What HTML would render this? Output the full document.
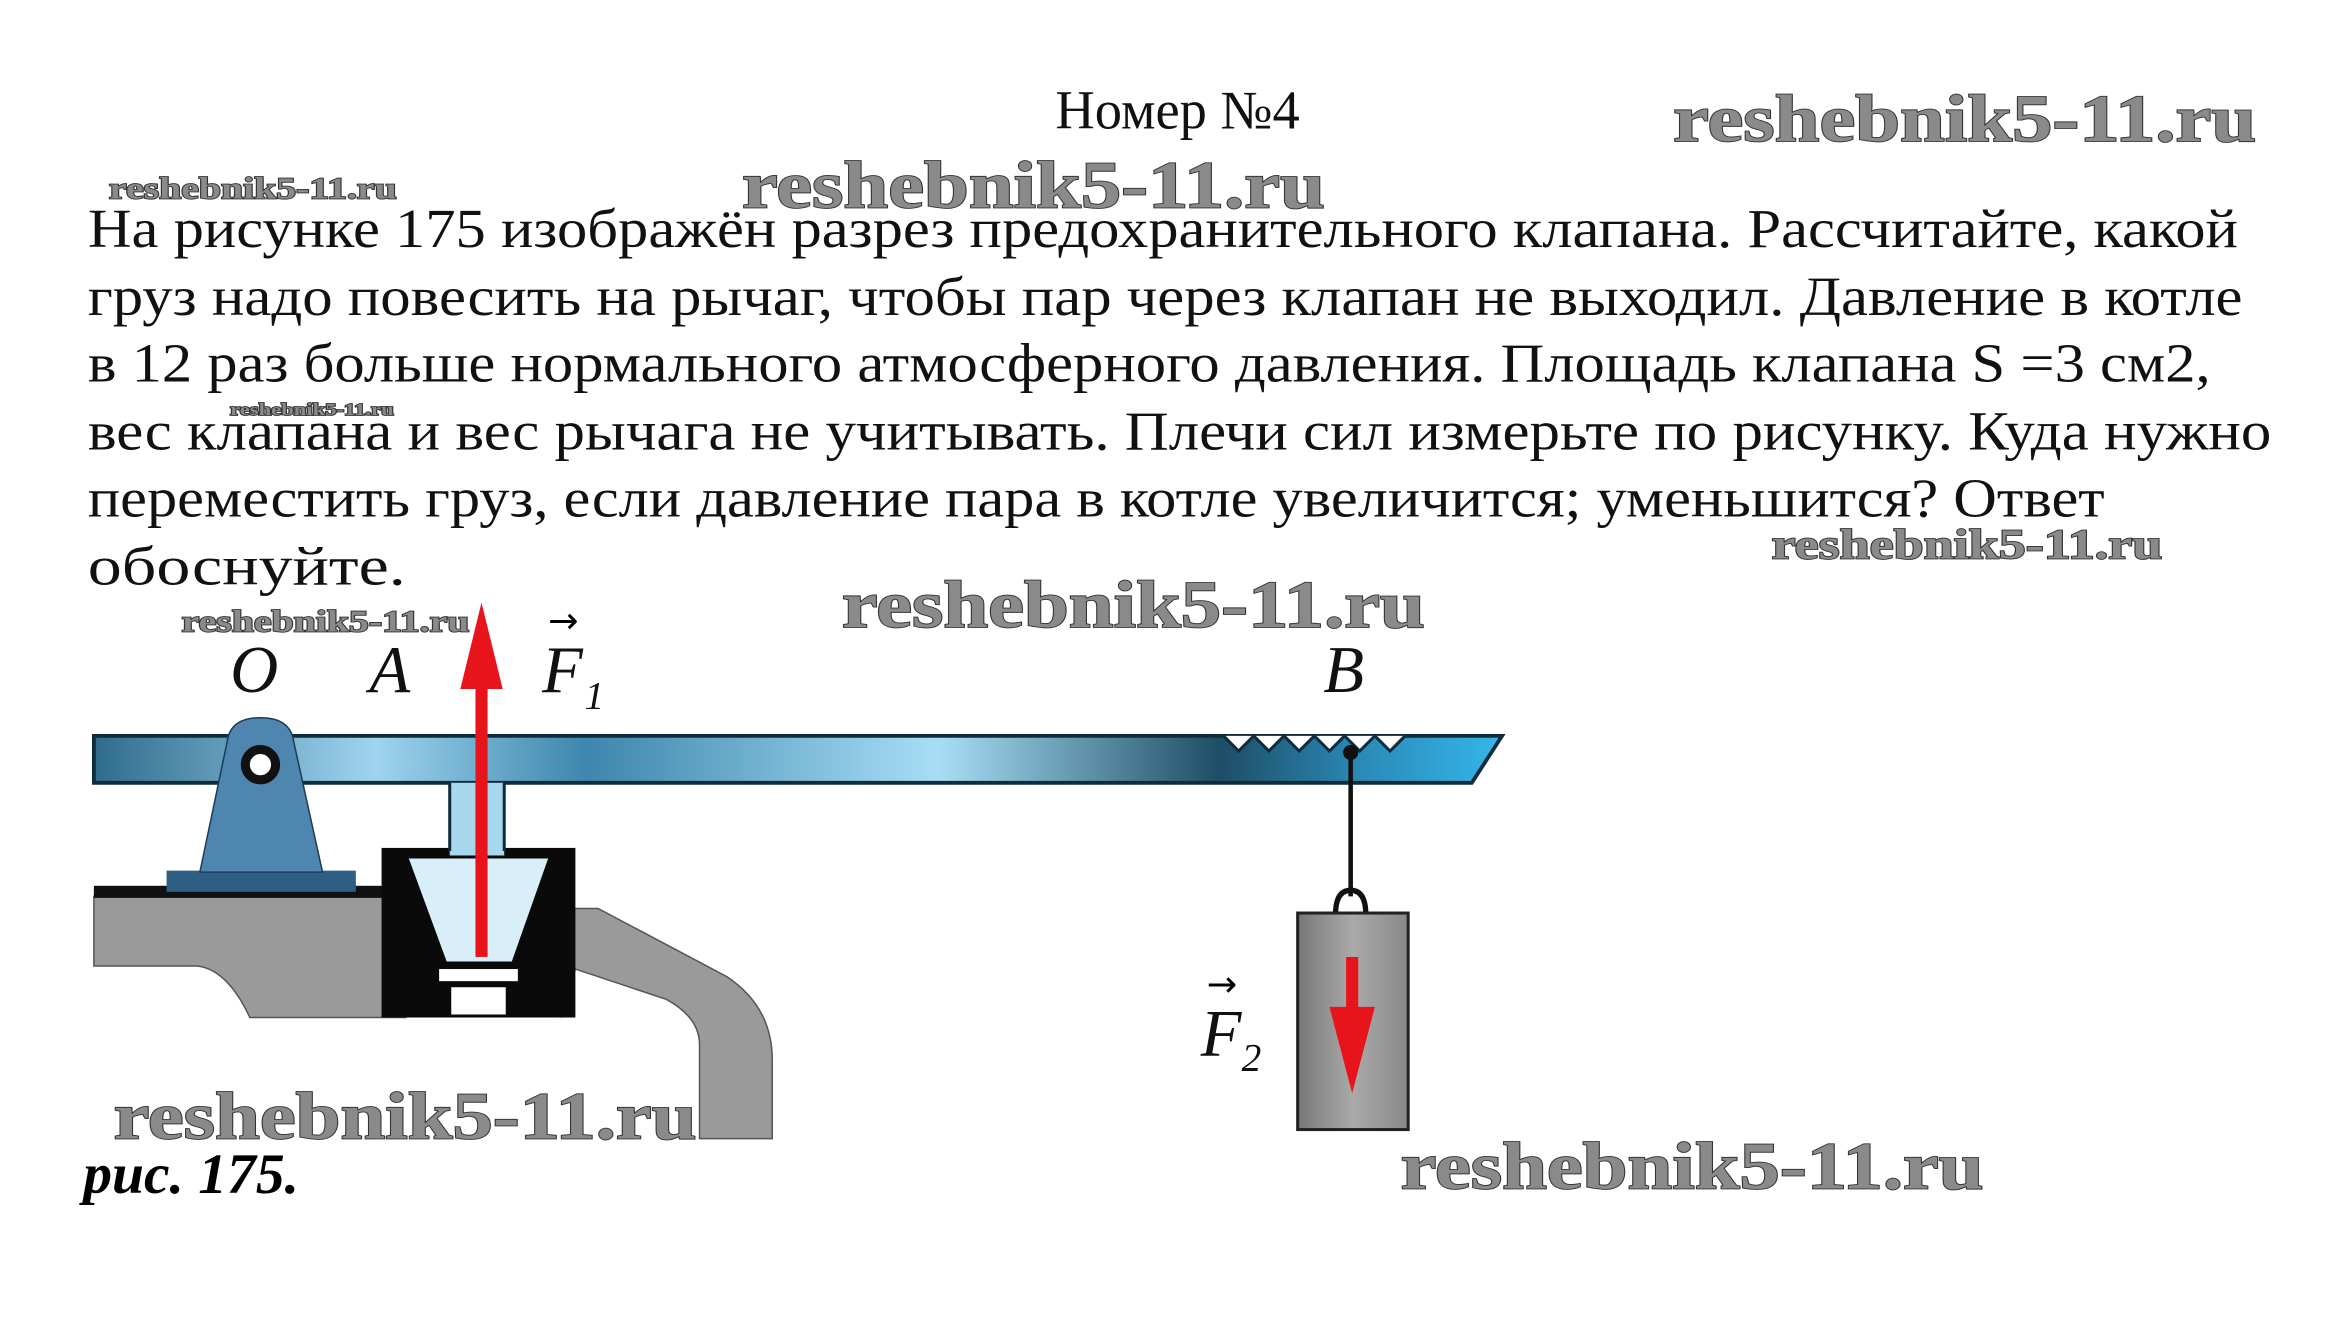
<!DOCTYPE html>
<html><head><meta charset="utf-8"><style>
html,body{margin:0;padding:0;background:#fff;width:2347px;height:1332px;overflow:hidden}
svg{display:block}
.t{font-family:"Liberation Serif","DejaVu Serif",serif;fill:#111;font-size:36px}
.w{font-family:"Liberation Serif",serif;font-weight:bold;fill:#8a8a8a;stroke:#333;stroke-width:1.2px;paint-order:stroke}
.L{font-family:"Liberation Serif",serif;font-style:italic;fill:#111;font-size:44px}
</style></head><body>
<svg width="2347" height="1332" viewBox="0 0 1550 879.7" preserveAspectRatio="none" xmlns="http://www.w3.org/2000/svg">
<defs>
<linearGradient id="lev" x1="0" x2="1" y1="0" y2="0">
<stop offset="0" stop-color="#2f6c8c"/><stop offset="0.2" stop-color="#9fd4ee"/><stop offset="0.35" stop-color="#3d86ad"/><stop offset="0.6" stop-color="#a8def5"/><stop offset="0.8" stop-color="#1e4d66"/><stop offset="0.9" stop-color="#2a8ab8"/><stop offset="1" stop-color="#35b6ea"/>
</linearGradient>
<linearGradient id="wt" x1="0" x2="1"><stop offset="0" stop-color="#777"/><stop offset="0.5" stop-color="#aaa"/><stop offset="1" stop-color="#888"/></linearGradient>
</defs>
<text class="t" x="697" y="85">Номер №4</text>
<text class="t" x="58" y="163" textLength="1420" lengthAdjust="spacingAndGlyphs">На рисунке 175 изображён разрез предохранительного клапана. Рассчитайте, какой</text>
<text class="t" x="58" y="208" textLength="1423" lengthAdjust="spacingAndGlyphs">груз надо повесить на рычаг, чтобы пар через клапан не выходил. Давление в котле</text>
<text class="t" x="58" y="252" textLength="1402" lengthAdjust="spacingAndGlyphs">в 12 раз больше нормального атмосферного давления. Площадь клапана S =3 см2,</text>
<text class="t" x="58" y="297" textLength="1442" lengthAdjust="spacingAndGlyphs">вес клапана и вес рычага не учитывать. Плечи сил измерьте по рисунку. Куда нужно</text>
<text class="t" x="58" y="341" textLength="1332" lengthAdjust="spacingAndGlyphs">переместить груз, если давление пара в котле увеличится; уменьшится? Ответ</text>
<text class="t" x="58" y="386" textLength="210" lengthAdjust="spacingAndGlyphs">обоснуйте.</text>

<!-- grey body -->
<path d="M62 592 L268 592 L268 672 L165 672 Q150 640 130 638 L62 638 Z" fill="#9a9a9a" stroke="#555" stroke-width="1"/>
<path d="M370 600 L395 600 L480 645 Q510 665 510 700 L510 752 L462 752 L462 690 Q462 672 440 660 L380 640 L370 672 Z" fill="#9a9a9a" stroke="#555" stroke-width="1"/>
<rect x="62" y="585" width="200" height="8" fill="#111"/>
<!-- valve housing -->
<rect x="252" y="560" width="128" height="112" fill="#0a0a0a"/>
<polygon points="270,567 362,567 338,635 295,635" fill="#d8eef8"/>
<rect x="290" y="640" width="52" height="8" fill="#fff"/>
<rect x="298" y="652" width="36" height="18" fill="#fff"/>
<!-- lever -->
<polygon points="62,486 992,486 972,517 62,517" fill="url(#lev)" stroke="#0f2c3d" stroke-width="2.5"/>
<path d="M808 486 l10 10 l10 -10 l10 10 l10 -10 l10 10 l10 -10 l10 10 l10 -10 l10 10 l10 -10 l10 10 l10 -10" fill="#fff" stroke="#0f2c3d" stroke-width="2"/>
<rect x="297" y="517" width="36" height="48" fill="#a8d8ee"/>
<line x1="297" y1="517" x2="297" y2="562" stroke="#0f2c3d" stroke-width="2"/>
<line x1="333" y1="517" x2="333" y2="562" stroke="#0f2c3d" stroke-width="2"/>
<!-- pivot (in front of lever) -->
<rect x="110" y="575" width="125" height="14" fill="#2d5f85"/>
<path d="M132 576 L150 490 Q152 474 172 474 Q192 474 194 490 L213 576 Z" fill="#4f86b0" stroke="#1c3d58" stroke-width="1"/>
<circle cx="172" cy="505" r="10" fill="#fff" stroke="#111" stroke-width="6"/>
<!-- red arrow F1 -->
<rect x="314" y="450" width="8" height="182" fill="#e8141b"/>
<polygon points="304,455 332,455 318,398" fill="#e8141b"/>
<!-- rope & weight -->
<line x1="892" y1="495" x2="892" y2="592" stroke="#111" stroke-width="3"/>
<circle cx="892" cy="497" r="5" fill="#111"/>
<path d="M882 604 Q882 588 892 588 Q902 588 902 604" fill="none" stroke="#111" stroke-width="3.5"/>
<rect x="857" y="603" width="73" height="143" fill="url(#wt)" stroke="#222" stroke-width="2"/>
<rect x="889" y="632" width="8" height="45" fill="#e8141b"/>
<polygon points="878,665 908,665 893,722" fill="#e8141b"/>
<!-- labels -->
<text class="L" x="152" y="457">O</text>
<text class="L" x="244" y="457">A</text>
<text class="L" x="358" y="457">F</text><text class="L" x="386" y="468" style="font-size:26px">1</text>
<text x="362" y="418" style="font-size:24px;font-family:'DejaVu Sans',sans-serif">→</text>
<text class="L" x="874" y="457">B</text>
<text class="L" x="793" y="697">F</text><text class="L" x="820" y="707" style="font-size:26px">2</text>
<text x="797" y="658" style="font-size:24px;font-family:'DejaVu Sans',sans-serif">→</text>
<text x="55" y="788" style="font-family:'Liberation Serif',serif;font-style:italic;font-weight:bold;font-size:38px">рис. 175.</text>
<!-- watermarks -->
<text class="w" x="1105" y="93" font-size="44" textLength="385" lengthAdjust="spacingAndGlyphs">reshebnik5-11.ru</text>
<text class="w" x="490" y="137" font-size="44" textLength="385" lengthAdjust="spacingAndGlyphs">reshebnik5-11.ru</text>
<text class="w" x="72" y="131" font-size="20" textLength="190" lengthAdjust="spacingAndGlyphs">reshebnik5-11.ru</text>
<text class="w" x="152" y="274" font-size="11" textLength="108" lengthAdjust="spacingAndGlyphs">reshebnik5-11.ru</text>
<text class="w" x="1170" y="369" font-size="28" textLength="258" lengthAdjust="spacingAndGlyphs">reshebnik5-11.ru</text>
<text class="w" x="120" y="417" font-size="20" textLength="190" lengthAdjust="spacingAndGlyphs">reshebnik5-11.ru</text>
<text class="w" x="556" y="414" font-size="44" textLength="385" lengthAdjust="spacingAndGlyphs">reshebnik5-11.ru</text>
<text class="w" x="75" y="752" font-size="44" textLength="385" lengthAdjust="spacingAndGlyphs">reshebnik5-11.ru</text>
<text class="w" x="925" y="785" font-size="44" textLength="385" lengthAdjust="spacingAndGlyphs">reshebnik5-11.ru</text>
</svg>
</body></html>
